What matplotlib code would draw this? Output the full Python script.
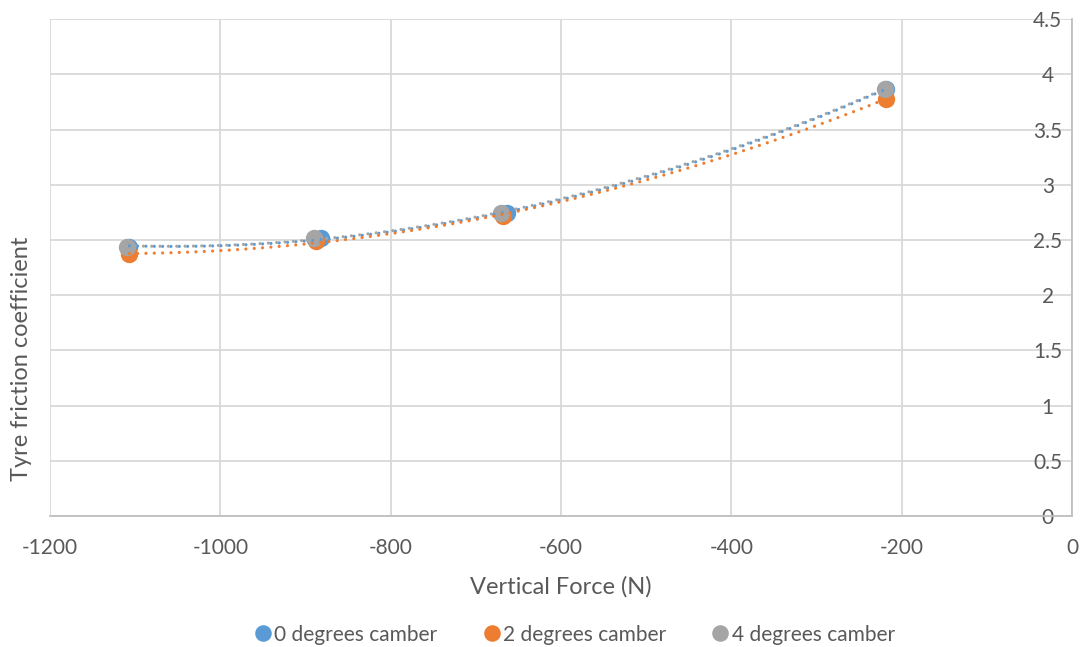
import numpy as np
import matplotlib.pyplot as plt

plt.rcParams['font.family'] = ['Lato', 'DejaVu Sans']
plt.rcParams['axes.unicode_minus'] = False

# data
series_names = ['0 degrees camber', '2 degrees camber', '4 degrees camber']
colors = ['#5B9BD5', '#ED7D31', '#A5A5A5']

force_0 = [-1107, -882, -664, -218]
mu_0 = [2.44, 2.52, 2.74, 3.87]

force_2 = [-1107, -888, -668, -218]
mu_2 = [2.37, 2.49, 2.72, 3.78]

force_4 = [-1110, -890, -670, -220]
mu_4 = [2.44, 2.52, 2.74, 3.87]

x_ticks = [-1200, -1000, -800, -600, -400, -200, 0]
y_ticks = [0, 0.5, 1, 1.5, 2, 2.5, 3, 3.5, 4, 4.5]

text_color = '#595959'
grid_color = '#D9D9D9'

fig = plt.figure(figsize=(10.81, 6.47), dpi=100)
ax = fig.add_axes([0.0463, 0.2025, 0.9454, 0.768])

all_series = [(force_0, mu_0), (force_2, mu_2), (force_4, mu_4)]
for i, (fx, mu) in enumerate(all_series):
    ax.plot(fx, mu, 'o', color=colors[i], markersize=11.5, zorder=3 + i,
            label=series_names[i])

# polynomial trendlines (order 2), drawn over the markers like Excel does
for i, (fx, mu) in enumerate(all_series):
    coef = np.polyfit(fx, mu, 2)
    xs = np.linspace(min(fx), max(fx), 300)
    ax.plot(xs, np.polyval(coef, xs), linestyle=(0, (0.01, 2.6)),
            dash_capstyle='round', color=colors[i], linewidth=2.3, zorder=7)

ax.set_xlim(-1200, 0)
ax.set_ylim(0, 4.5)
ax.set_xticks(x_ticks)
ax.set_yticks(y_ticks)
ax.set_yticklabels([f'{v:g}' for v in y_ticks])

ax.grid(True, color=grid_color, linewidth=1.3)
ax.set_axisbelow(True)
for side in ['top', 'left']:
    ax.spines[side].set_visible(False)
for side in ['bottom', 'right']:
    ax.spines[side].set_color('#BFBFBF')
    ax.spines[side].set_linewidth(1.3)

ax.tick_params(axis='x', length=0, pad=16, labelsize=15, colors=text_color)
ax.tick_params(axis='y', left=False, right=False, labelleft=False,
               labelright=True, pad=-21, labelsize=15, colors=text_color)
for lbl in ax.get_yticklabels():
    lbl.set_horizontalalignment('center')

ax.set_xlabel('Vertical Force (N)', fontsize=17, color=text_color, labelpad=13)
fig.text(0.0195, 0.445, 'Tyre friction coefficient', rotation=90,
         fontsize=17, color=text_color, ha='center', va='center')

leg = fig.legend(loc='center', bbox_to_anchor=(0.526, 0.019), ncol=3,
                 frameon=False, fontsize=15, handletextpad=-0.45,
                 columnspacing=1.6, markerscale=0.95)
for t in leg.get_texts():
    t.set_color(text_color)

fig.savefig('out.png', dpi=100)
